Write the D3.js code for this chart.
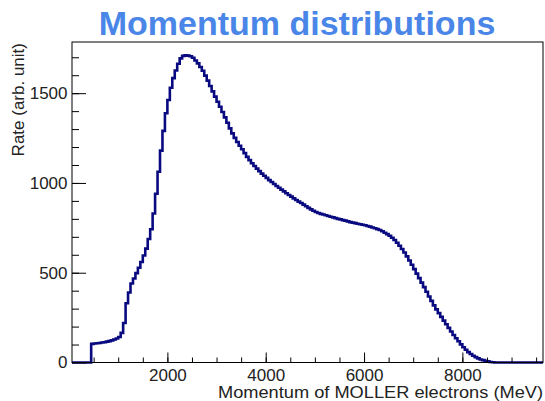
<!DOCTYPE html>
<html>
<head>
<meta charset="utf-8">
<script src="https://cdn.jsdelivr.net/npm/d3@7"></script>
<style>
  body { margin: 0; background: #fff; }
  text { font-family: "Liberation Sans", Arial, sans-serif; }
</style>
</head>
<body>
<div id="container"></div>
<script>
// Histogram data: bins of 50 MeV starting at 450 MeV (zero below)
const binStart = 450;
const binWidth = 50;
const rates = [
  104, 106, 107, 109, 111, 113, 116, 119, 123, 128,
  134, 142, 165, 220, 330, 390, 440, 468, 498, 528,
  560, 596, 634, 688, 742, 830, 940, 1062, 1180, 1290,
  1388, 1462, 1530, 1584, 1626, 1664, 1694, 1708, 1711, 1709,
  1706, 1697, 1682, 1666, 1646, 1625, 1598, 1570, 1540, 1510,
  1481, 1452, 1424, 1395, 1365, 1335, 1304, 1276, 1251, 1228,
  1207, 1188, 1166, 1145, 1127, 1110, 1094, 1080, 1066, 1052,
  1040, 1028, 1016, 1005, 994, 983, 973, 963, 953, 943,
  933, 924, 914, 905, 896, 888, 879, 870, 861, 853,
  845, 838, 833, 828, 824, 820, 816, 812, 808, 804,
  800, 797, 793, 790, 786, 782, 779, 776, 773, 770,
  767, 764, 760, 757, 752, 748, 743, 738, 731, 723,
  715, 706, 695, 682, 667, 650, 632, 613, 591, 568,
  544, 520, 495, 470, 445, 420, 394, 368, 343, 318,
  296, 275, 254, 233, 213, 193, 173, 153, 135, 118,
  101, 85, 71, 58, 47, 38, 30, 23, 17, 13,
  9, 6, 3, 1, 0
];
const xMajorTicks = [2000, 4000, 6000, 8000];
const yMajorTicks = [0, 500, 1000, 1500];
const titleText = "Momentum distributions";
const xTitle = "Momentum of MOLLER electrons (MeV)";
const yTitle = "Rate (arb. unit)";

const W = 545, H = 401;
const plot = { left: 72, right: 543, top: 42, bottom: 362.5 };

const svg = d3.select("#container")
    .append("svg")
    .attr("width", W)
    .attr("height", H);

const x = d3.scaleLinear().domain([60, 9640]).range([plot.left, plot.right]);
const y = d3.scaleLinear().domain([0, 1785]).range([plot.bottom, plot.top]);

// Title
svg.append("text")
    .attr("x", 297)
    .attr("y", 34.5)
    .attr("text-anchor", "middle")
    .style("font-size", "34px")
    .style("font-weight", "bold")
    .attr("fill", "#4a86e8")
    .text(titleText);

// Build step path points from the bins
const pts = [[x.domain()[0], 0], [binStart, 0]];
rates.forEach((v, i) => {
    const x0 = binStart + i * binWidth;
    pts.push([x0, v], [x0 + binWidth, v]);
});
pts.push([x.domain()[1], 0]);

const line = d3.line().x(d => x(d[0])).y(d => y(d[1]));

svg.append("path")
    .datum(pts)
    .attr("d", line)
    .attr("fill", "none")
    .attr("stroke", "#0a0a80")
    .attr("stroke-width", 2.6)
    .attr("stroke-linejoin", "miter");

// Frame
svg.append("rect")
    .attr("x", plot.left)
    .attr("y", plot.top)
    .attr("width", plot.right - plot.left)
    .attr("height", plot.bottom - plot.top)
    .attr("fill", "none")
    .attr("stroke", "#000")
    .attr("stroke-width", 1);

// X axis: minor then major ticks, pointing inside
const xMinor = d3.range(500, 9600, 500);
svg.append("g")
    .attr("transform", `translate(0,${plot.bottom})`)
    .call(d3.axisBottom(x).tickValues(xMinor).tickSize(-5).tickFormat(""))
    .call(g => g.select(".domain").remove());

const gx = svg.append("g")
    .attr("transform", `translate(0,${plot.bottom})`)
    .call(d3.axisBottom(x).tickValues(xMajorTicks).tickSize(-10).tickFormat(d3.format("d")));
gx.select(".domain").remove();
gx.selectAll("text").style("font-size", "17px").attr("fill", "#222").attr("y", 18.5).attr("dy", 0);

// Y axis
const yMinor = d3.range(100, 1785, 100);
svg.append("g")
    .attr("transform", `translate(${plot.left},0)`)
    .call(d3.axisLeft(y).tickValues(yMinor).tickSize(-7).tickFormat(""))
    .call(g => g.select(".domain").remove());

const gy = svg.append("g")
    .attr("transform", `translate(${plot.left},0)`)
    .call(d3.axisLeft(y).tickValues(yMajorTicks).tickSize(-14).tickFormat(d3.format("d")));
gy.select(".domain").remove();
gy.selectAll("text").style("font-size", "17px").attr("fill", "#222").attr("x", -4.5);

// Axis titles
svg.append("text")
    .attr("x", plot.right)
    .attr("y", 398)
    .attr("text-anchor", "end")
    .attr("textLength", 325)
    .attr("lengthAdjust", "spacingAndGlyphs")
    .style("font-size", "16px")
    .attr("fill", "#222")
    .text(xTitle);

svg.append("text")
    .attr("transform", `translate(24,43) rotate(-90)`)
    .attr("text-anchor", "end")
    .style("font-size", "17px")
    .attr("fill", "#222")
    .text(yTitle);
</script>
</body>
</html>
